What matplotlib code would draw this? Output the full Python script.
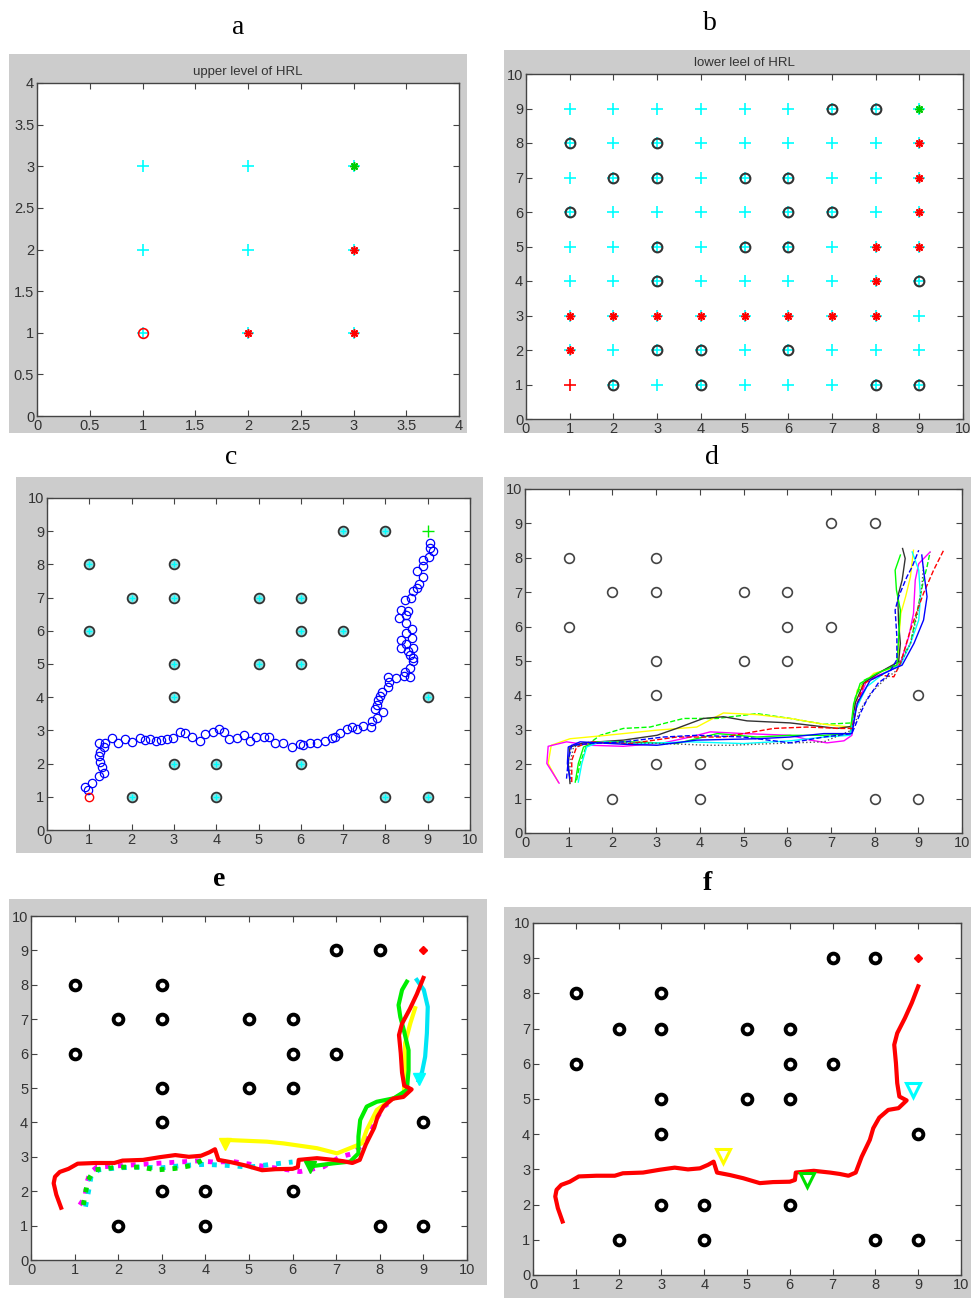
import matplotlib
matplotlib.use("Agg")
import matplotlib.pyplot as plt
from matplotlib.patches import Rectangle
from matplotlib.ticker import FuncFormatter

W, H = 971, 1298

# obstacle cells (lower level grid)
obs_x = [1, 3, 2, 3, 5, 6, 1, 6, 7, 3, 5, 6, 3, 9, 3, 4, 6, 2, 4, 8, 9, 7, 8]
obs_y = [8, 8, 7, 7, 7, 7, 6, 6, 6, 5, 5, 5, 4, 4, 2, 2, 2, 1, 1, 1, 1, 9, 9]

# panel a: upper level
a_grid = [1, 2, 3]
a_star_x = [2, 3, 3]
a_star_y = [1, 1, 2]

# panel b: lower level path
b_star_x = [1, 1, 2, 3, 4, 5, 6, 7, 8, 8, 8, 9, 9, 9, 9]
b_star_y = [2, 3, 3, 3, 3, 3, 3, 3, 3, 4, 5, 5, 6, 7, 8]

# panel c: single run
c_x = [0.91, 0.98, 1.06, 1.22, 1.34, 1.30, 1.26, 1.24, 1.26, 1.22, 1.34, 1.38, 1.54, 1.69,
       1.85, 2.02, 2.19, 2.32, 2.44, 2.58, 2.70, 2.83, 2.99, 3.15, 3.27, 3.43, 3.61, 3.74,
       3.92, 4.06, 4.19, 4.31, 4.49, 4.65, 4.80, 4.94, 5.12, 5.26, 5.39, 5.57, 5.79, 5.97,
       6.06, 6.22, 6.39, 6.57, 6.73, 6.81, 6.93, 7.09, 7.20, 7.32, 7.48, 7.65, 7.69, 7.81,
       7.94, 7.76, 7.80, 7.83, 7.87, 7.91, 8.06, 8.09, 8.07, 8.25, 8.43, 8.58, 8.57, 8.46,
       8.65, 8.66, 8.58, 8.54, 8.66, 8.38, 8.49, 8.38, 8.62, 8.49, 8.62, 8.49, 8.31, 8.49,
       8.38, 8.54, 8.46, 8.60, 8.66, 8.74, 8.80, 8.88, 8.74, 8.90, 8.90, 9.02, 9.13, 9.06,
       9.06]
c_y = [1.31, 1.19, 1.43, 1.63, 1.73, 1.91, 2.06, 2.23, 2.36, 2.61, 2.51, 2.61, 2.76, 2.61,
       2.73, 2.66, 2.76, 2.71, 2.73, 2.69, 2.71, 2.73, 2.76, 2.96, 2.91, 2.79, 2.69, 2.89,
       2.96, 3.04, 2.96, 2.73, 2.76, 2.86, 2.69, 2.81, 2.81, 2.81, 2.61, 2.63, 2.49, 2.59,
       2.55, 2.61, 2.63, 2.69, 2.76, 2.81, 2.93, 3.04, 3.10, 3.05, 3.12, 3.10, 3.27, 3.37,
       3.54, 3.64, 3.77, 3.92, 4.04, 4.17, 4.32, 4.47, 4.62, 4.57, 4.64, 4.62, 4.87, 4.77,
       5.08, 5.18, 5.28, 5.38, 5.48, 5.48, 5.61, 5.73, 5.78, 5.93, 6.05, 6.23, 6.40, 6.48,
       6.63, 6.61, 6.93, 7.00, 7.19, 7.29, 7.42, 7.62, 7.79, 7.94, 8.12, 8.22, 8.39, 8.49,
       8.64]

# panel d: repeated runs (colour, style, x, y)
d_yellow_x = [0.76, 0.53, 0.60, 1.03, 1.87, 3.02, 3.93, 4.54, 5.31, 6.07, 6.84, 7.44, 7.52, 7.60, 7.98, 8.52, 8.56, 8.60, 8.71, 8.82, 8.89]
d_yellow_y = [1.48, 2.02, 2.55, 2.74, 2.84, 2.99, 3.08, 3.49, 3.44, 3.33, 3.16, 3.08, 3.47, 4.15, 4.64, 4.83, 5.70, 6.38, 6.87, 7.45, 8.22]
d_magenta_x = [0.78, 0.50, 0.53, 0.95, 1.49, 2.25, 3.17, 3.78, 4.24, 5.00, 6.07, 6.53, 6.91, 7.30, 7.48, 7.56, 7.82, 8.36, 8.59, 8.78, 8.89, 8.93, 9.01, 9.27]
d_magenta_y = [1.45, 2.02, 2.52, 2.65, 2.55, 2.52, 2.62, 2.79, 2.94, 2.89, 2.84, 2.70, 2.62, 2.68, 2.84, 3.57, 4.44, 4.73, 4.93, 5.70, 6.38, 7.35, 7.83, 8.17]
d_black_x = [1.03, 0.99, 1.03, 1.34, 2.25, 3.02, 3.47, 4.08, 4.54, 5.08, 6.07, 7.14, 7.48, 7.56, 7.76, 8.13, 8.55, 8.59, 8.55, 8.53, 8.63, 8.70, 8.64]
d_black_y = [1.44, 2.02, 2.50, 2.62, 2.70, 2.84, 3.04, 3.33, 3.38, 3.26, 3.20, 3.04, 3.10, 3.79, 4.37, 4.68, 4.98, 5.51, 6.09, 6.87, 7.35, 7.98, 8.27]
d_green_dash_x = [1.18, 1.26, 1.41, 1.72, 2.25, 2.86, 3.63, 4.40, 5.31, 6.07, 6.84, 7.48, 7.56, 7.76, 8.21, 8.55, 8.82, 8.98, 9.12, 9.20, 9.27]
d_green_dash_y = [1.53, 2.02, 2.55, 2.84, 3.04, 3.08, 3.33, 3.33, 3.47, 3.33, 3.16, 3.20, 3.95, 4.44, 4.73, 4.93, 5.51, 6.48, 7.35, 7.74, 8.17]
d_green_x = [1.15, 1.22, 1.34, 1.65, 2.40, 3.47, 4.40, 5.31, 6.07, 6.84, 7.44, 7.52, 7.67, 8.05, 8.51, 8.55, 8.59, 8.50, 8.47, 8.59]
d_green_y = [1.48, 2.02, 2.50, 2.65, 2.65, 2.60, 2.89, 2.79, 2.84, 2.84, 2.89, 3.76, 4.35, 4.64, 4.88, 5.70, 6.48, 7.06, 7.64, 8.08]
d_blue_x = [1.03, 0.97, 0.99, 1.26, 2.25, 3.02, 3.93, 5.31, 6.07, 6.84, 7.48, 7.60, 7.90, 8.36, 8.63, 8.90, 9.12, 9.20, 9.12, 9.08]
d_blue_y = [1.58, 2.02, 2.50, 2.65, 2.58, 2.55, 2.70, 2.74, 2.79, 2.89, 2.89, 3.76, 4.44, 4.73, 4.88, 5.51, 6.19, 6.87, 7.64, 8.08]
d_blue_dash_x = [0.95, 0.99, 1.07, 1.49, 2.25, 3.17, 3.93, 5.00, 6.07, 6.84, 7.48, 7.67, 7.82, 8.09, 8.28, 8.51, 8.51, 8.47, 8.55, 8.74, 8.86, 9.01]
d_blue_dash_y = [1.58, 2.11, 2.55, 2.60, 2.65, 2.79, 2.84, 2.79, 2.62, 2.79, 2.89, 3.47, 3.86, 4.37, 4.54, 5.04, 5.70, 6.48, 6.87, 7.45, 7.74, 8.22]
d_red_dash_x = [1.07, 1.07, 1.18, 1.49, 2.40, 3.47, 4.54, 5.69, 6.45, 7.21, 7.48, 7.60, 7.76, 8.13, 8.44, 8.59, 8.82, 8.98, 9.12, 9.35, 9.58]
d_red_dash_y = [1.48, 2.11, 2.50, 2.65, 2.60, 2.79, 2.79, 3.04, 3.08, 3.04, 3.04, 3.76, 4.35, 4.59, 4.54, 4.93, 5.90, 6.48, 6.97, 7.64, 8.22]
d_cyan_x = [1.22, 1.30, 1.41, 1.72, 2.63, 3.78, 5.00, 6.07, 6.84, 7.44, 7.56, 7.82, 8.21, 8.59, 8.82, 9.01, 9.05, 9.01, 8.86]
d_cyan_y = [1.48, 2.02, 2.50, 2.65, 2.60, 2.65, 2.60, 2.68, 2.79, 2.84, 3.57, 4.25, 4.64, 4.88, 5.51, 6.19, 6.87, 7.64, 8.17]
d_black_dot_x = [1.03, 1.03, 1.11, 1.49, 2.63, 3.63, 4.16, 4.69, 5.69, 6.84, 7.48, 7.67, 7.90, 8.21, 8.51, 8.82, 8.98, 9.08, 9.12]
d_black_dot_y = [1.48, 2.02, 2.50, 2.62, 2.62, 2.58, 2.55, 2.55, 2.60, 2.65, 2.99, 3.57, 4.05, 4.44, 4.73, 5.51, 6.38, 7.16, 7.74]

d_runs = [
    ("#00ff00", "--", d_green_dash_x, d_green_dash_y),
    ("#ffff00", "-", d_yellow_x, d_yellow_y),
    ("#ff00ff", "-", d_magenta_x, d_magenta_y),
    ("#333333", "-", d_black_x, d_black_y),
    ("#00ff00", "-", d_green_x, d_green_y),
    ("#00ffff", "-", d_cyan_x, d_cyan_y),
    ("#ff0000", "--", d_red_dash_x, d_red_dash_y),
    ("#555555", ":", d_black_dot_x, d_black_dot_y),
    ("#0000ff", "-", d_blue_x, d_blue_y),
    ("#0000ff", "--", d_blue_dash_x, d_blue_dash_y),
]

# panel e / f: final path (red) and the partial paths
red_x = [0.69, 0.58, 0.52, 0.55, 0.66, 0.86, 1.07, 1.48, 1.91, 2.10, 2.57, 2.96, 3.31, 3.62, 3.90,
         4.09, 4.22, 4.30, 4.60, 4.91, 5.30, 5.61, 6.00, 6.12, 6.14, 6.56, 6.94, 7.17, 7.37, 7.54,
         7.68, 7.87, 7.95, 8.09, 8.30, 8.54, 8.73, 8.56, 8.51, 8.48, 8.44, 8.51, 8.69, 8.85, 9.00]
red_y = [1.52, 1.90, 2.23, 2.42, 2.56, 2.65, 2.80, 2.82, 2.82, 2.89, 2.91, 2.99, 3.05, 3.00, 3.03,
         3.13, 3.22, 2.91, 2.84, 2.75, 2.61, 2.64, 2.65, 2.70, 2.91, 2.96, 2.91, 2.87, 2.82, 2.91,
         3.36, 3.84, 4.17, 4.47, 4.69, 4.74, 4.96, 5.07, 5.45, 6.02, 6.54, 6.87, 7.30, 7.73, 8.20]
e_yellow_x = [4.45, 4.49, 5.41, 5.79, 6.56, 7.02, 7.59, 7.70, 7.93, 8.24, 8.55, 8.58, 8.58, 8.70, 8.81]
e_yellow_y = [3.40, 3.49, 3.44, 3.39, 3.25, 3.10, 3.39, 3.78, 4.36, 4.65, 4.84, 5.72, 6.30, 6.88, 7.32]
e_green_x = [6.40, 6.94, 7.32, 7.51, 7.51, 7.55, 7.70, 7.93, 8.32, 8.62, 8.66, 8.66, 8.55, 8.47, 8.43, 8.51, 8.62]
e_green_y = [2.72, 2.81, 2.86, 3.10, 3.59, 4.07, 4.46, 4.60, 4.70, 4.94, 5.52, 6.10, 6.69, 7.07, 7.41, 7.85, 8.09]
e_cyan_x = [8.85, 9.01, 9.10, 9.08, 9.04, 8.97, 8.89]
e_cyan_y = [8.14, 7.85, 7.36, 6.59, 5.91, 5.47, 5.22]
e_mag_x = [1.12, 1.24, 1.28, 1.35, 1.51, 2.27, 3.03, 3.42, 3.80, 4.18, 4.64, 5.41, 6.17, 6.71, 7.09, 7.40, 7.63, 7.86, 8.09, 8.32]
e_mag_y = [1.60, 1.83, 2.24, 2.53, 2.70, 2.76, 2.82, 2.85, 2.88, 2.85, 2.86, 2.71, 2.57, 2.71, 3.00, 3.10, 3.39, 3.97, 4.46, 4.65]
e_cdot_x = [1.25, 1.32, 1.38, 1.55, 2.00, 2.50, 3.00, 3.50, 4.00, 4.50, 5.00, 5.50, 6.00]
e_cdot_y = [1.55, 2.00, 2.45, 2.62, 2.68, 2.70, 2.68, 2.75, 2.78, 2.75, 2.70, 2.78, 2.85]
e_gdot_x = [1.20, 1.30, 1.45, 2.00, 2.50, 2.90, 3.30, 3.70, 3.95]
e_gdot_y = [1.60, 2.30, 2.62, 2.70, 2.70, 2.62, 2.66, 2.75, 2.92]

# subgoal triangles (yellow, green, cyan)
tri_x = [4.45, 6.40, 8.89]
tri_y = [3.38, 2.70, 5.25]
tri_c = ["#ffff00", "#00e000", "#00ffff"]

GRAY = "#cccccc"
plt.rcParams["font.family"] = ["Liberation Sans", "DejaVu Sans"]
fig = plt.figure(figsize=(W / 100, H / 100), dpi=100, facecolor="white")


def gray_box(l, t, r, b):
    fig.patches.append(Rectangle((l / W, 1 - b / H), (r - l) / W, (b - t) / H,
                                 transform=fig.transFigure, facecolor=GRAY,
                                 edgecolor="none", zorder=-10))


def panel(l, t, r, b, lim, step):
    ax = fig.add_axes([l / W, 1 - b / H, (r - l) / W, (b - t) / H])
    ax.set_zorder(1)
    ax.set_xlim(0, lim)
    ax.set_ylim(0, lim)
    ticks = [i * step for i in range(int(lim / step) + 1)]
    ax.set_xticks(ticks)
    ax.set_yticks(ticks)
    fmt = FuncFormatter(lambda v, p: f"{v:g}")
    ax.xaxis.set_major_formatter(fmt)
    ax.yaxis.set_major_formatter(fmt)
    ax.tick_params(direction="in", length=4, width=0.8, top=True, right=True,
                   labelsize=10.5, labelcolor="#333333", color="#444444", pad=2)
    for s in ax.spines.values():
        s.set_color("#444444")
        s.set_linewidth(1.0)
    return ax


def label(x, y, s, bold=False):
    fig.text(x / W, 1 - y / H, s, ha="center", va="center", fontsize=20,
             family="Liberation Serif", fontweight="bold" if bold else "normal")


STAR = (8, 2, 0)

# ---- a
gray_box(9, 54, 467, 433)
ax = panel(37, 83, 459, 416, 4, 0.5)
ax.set_title("upper level of HRL", fontsize=9.5, color="#333333", pad=6)
for gx in a_grid:
    for gy in a_grid:
        ax.plot(gx, gy, "+", color="#00ffff", ms=8, mew=1.2)
ax.plot(1, 1, "o", mfc="none", mec="red", ms=7, mew=1.2)
ax.plot(a_star_x, a_star_y, ls="none", marker=STAR, color="red", ms=6, mew=1.1)
ax.plot(3, 3, ls="none", marker=STAR, color="#00cc00", ms=6, mew=1.1)
label(238, 28, "a")

# ---- b
gray_box(504, 50, 970, 433)
ax = panel(526, 74, 963, 419, 10, 1)
ax.set_title("lower leel of HRL", fontsize=9.5, color="#333333", pad=6)
for gx in range(1, 10):
    for gy in range(1, 10):
        if (gx, gy) != (1, 1):
            ax.plot(gx, gy, "+", color="#00ffff", ms=8, mew=1.2)
ax.plot(1, 1, "+", color="red", ms=8, mew=1.2)
ax.plot(obs_x, obs_y, "o", ls="none", mfc="none", mec="#333333", ms=7, mew=1.5)
ax.plot(b_star_x, b_star_y, ls="none", marker=STAR, color="red", ms=6, mew=1.1)
ax.plot(9, 9, ls="none", marker=STAR, color="#00cc00", ms=6, mew=1.1)
label(710, 24, "b")

# ---- c
gray_box(16, 477, 483, 853)
ax = panel(47, 498, 470, 830, 10, 1)
ax.plot(obs_x, obs_y, "o", ls="none", mfc="#8fe0e0", mec="#333333", ms=7, mew=1.3)
ax.plot(obs_x, obs_y, "+", ls="none", color="#00ffff", ms=5, mew=1.0)
ax.plot(c_x, c_y, "o", ls="none", mfc="none", mec="blue", ms=6, mew=0.9)
ax.plot(1, 1, "o", mfc="none", mec="red", ms=6, mew=1.0)
ax.plot(9, 9, "+", color="#00ee00", ms=8, mew=1.0)
label(231, 458, "c")

# ---- d
gray_box(504, 477, 971, 858)
ax = panel(525, 489, 962, 833, 10, 1)
ax.plot(obs_x, obs_y, "o", ls="none", mfc="none", mec="#444444", ms=7, mew=1.2)
for col, ls, xs, ys in d_runs:
    ax.plot(xs, ys, color=col, ls=ls, lw=1.0)
label(712, 458, "d")

# ---- e
gray_box(9, 899, 487, 1285)
ax = panel(31, 916, 467, 1260, 10, 1)
ax.plot(obs_x, obs_y, "o", ls="none", mfc="white", mec="black", ms=7, mew=2.8)
ax.plot(e_mag_x, e_mag_y, color="#ff00ff", ls=":", lw=3.5)
ax.plot(e_cdot_x, e_cdot_y, color="#00e0f0", ls=":", lw=3.5)
ax.plot(e_gdot_x, e_gdot_y, color="#00dd00", ls=":", lw=3.5)
ax.plot(e_yellow_x, e_yellow_y, color="#ffff00", lw=3)
ax.plot(e_cyan_x, e_cyan_y, color="#00e5f5", lw=3)
ax.plot(e_green_x, e_green_y, color="#00ee00", lw=3)
ax.plot(red_x, red_y, color="red", lw=3)
for tx, ty, tc in zip(tri_x, tri_y, tri_c):
    ax.plot(tx, ty, "v", color=tc, ms=9)
ax.plot(9, 9, "D", color="red", ms=4)
label(219, 880, "e", bold=True)

# ---- f
gray_box(504, 907, 971, 1298)
ax = panel(533, 923, 961, 1275, 10, 1)
ax.plot(obs_x, obs_y, "o", ls="none", mfc="white", mec="black", ms=7, mew=2.8)
ax.plot(red_x, red_y, color="red", lw=3)
for tx, ty, tc in zip(tri_x, tri_y, tri_c):
    ax.plot(tx, ty, "v", mfc="none", mec=tc, ms=9.5, mew=2.2)
ax.plot(9, 9, "D", color="red", ms=4)
label(707, 884, "f", bold=True)

fig.savefig("out.png", dpi=100, facecolor="white")
